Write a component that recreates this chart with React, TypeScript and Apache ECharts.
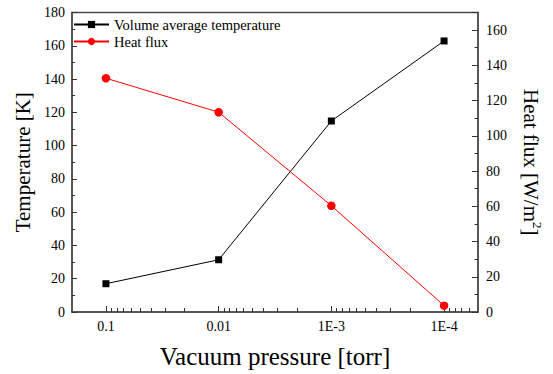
import React, { useEffect, useRef } from "react";
import * as echarts from "echarts";

const pressureLabels = ["0.1", "0.01", "1E-3", "1E-4"];
const pressures = [0.1, 0.01, 0.001, 0.0001];
const temperature = [17.0, 31.4, 114.8, 162.9];
const heatFlux = [132.7, 113.4, 60.3, 3.6];
const pressureMin = 5e-5;
const pressureMax = 0.2;
const tempTicks = { min: 0, max: 180, interval: 20 };
const fluxTicks = { min: 0, max: 170, interval: 20 };

const toX = (p: number) => -Math.log10(p);

export default function App() {
  const ref = useRef<HTMLDivElement>(null);
  useEffect(() => {
    if (!ref.current) return;
    const chart = echarts.init(ref.current, null, { renderer: "svg" });
    const xMin = toX(pressureMax);
    const xMax = toX(pressureMin);
    const major = pressures.map(toX);
    const minor: number[] = [];
    for (let e = -1; e >= -5; e--) {
      for (let m = 2; m <= 9; m++) {
        const v = toX(m * Math.pow(10, e));
        if (v >= xMin + 1e-6 && v <= xMax - 1e-6) minor.push(v);
      }
    }
    const font = "Liberation Serif";
    const lineColor = "#4d4d4d";
    const tickColor = "#333";
    chart.setOption({
      animation: false,
      textStyle: { fontFamily: font },
      grid: {
        left: 72,
        right: 75,
        top: 12.5,
        bottom: 62,
        show: true,
        borderColor: lineColor,
        borderWidth: 1.5,
        backgroundColor: "transparent",
      },
      legend: {
        orient: "vertical",
        left: 68,
        top: 12,
        itemWidth: 35,
        itemHeight: 9,
        itemGap: 2,
        textStyle: { fontFamily: font, fontSize: 14.5, color: "#000" },
        data: ["Volume average temperature", "Heat flux"],
      },
      xAxis: [
        {
          type: "value",
          min: xMin,
          max: xMax,
          name: "Vacuum pressure [torr]",
          nameLocation: "middle",
          nameGap: 32,
          nameTextStyle: { fontFamily: font, fontSize: 25, color: "#000" },
          axisLine: { show: true, lineStyle: { color: lineColor, width: 1.5 } },
          axisTick: { show: true, inside: true, length: 6, customValues: major, lineStyle: { color: tickColor, width: 1 } },
          axisLabel: {
            customValues: major,
            margin: 7,
            fontFamily: font,
            fontSize: 14,
            color: "#000",
            formatter: (v: number) => {
              const i = major.findIndex((m) => Math.abs(m - v) < 1e-6);
              return i >= 0 ? pressureLabels[i] : "";
            },
          },
          splitLine: { show: false },
        },
        {
          type: "value",
          min: xMin,
          max: xMax,
          position: "bottom",
          axisLine: { show: false },
          axisTick: { show: true, inside: true, length: 4, customValues: minor, lineStyle: { color: tickColor, width: 1 } },
          axisLabel: { show: false },
          splitLine: { show: false },
        },
      ],
      yAxis: [
        {
          type: "value",
          position: "left",
          min: tempTicks.min,
          max: tempTicks.max,
          interval: tempTicks.interval,
          name: "Temperature [K]",
          nameLocation: "middle",
          nameGap: 37,
          nameTextStyle: { fontFamily: font, fontSize: 21, color: "#000" },
          axisLine: { show: true, lineStyle: { color: lineColor, width: 1.5 } },
          axisTick: { show: true, inside: true, length: 5, lineStyle: { color: tickColor, width: 1 } },
          minorTick: { show: true, splitNumber: 2, length: 3, lineStyle: { color: tickColor, width: 1 } },
          axisLabel: { margin: 7, fontFamily: font, fontSize: 14, color: "#000" },
          splitLine: { show: false },
        },
        {
          type: "value",
          position: "right",
          min: fluxTicks.min,
          max: fluxTicks.max,
          interval: fluxTicks.interval,
          name: "Heat flux [W/m{sup|2}]",
          nameLocation: "middle",
          nameRotate: -90,
          nameGap: 39,
          nameTextStyle: {
            fontFamily: font,
            fontSize: 21,
            color: "#000",
            lineHeight: 26,
            rich: { sup: { fontFamily: font, fontSize: 13, color: "#000", verticalAlign: "top", lineHeight: 26 } },
          },
          axisLine: { show: true, lineStyle: { color: lineColor, width: 1.5 } },
          axisTick: { show: true, inside: true, length: 6, lineStyle: { color: tickColor, width: 1 } },
          minorTick: { show: true, splitNumber: 2, length: 3.5, lineStyle: { color: tickColor, width: 1 } },
          axisLabel: { margin: 8, fontFamily: font, fontSize: 14, color: "#000", showMaxLabel: false },
          splitLine: { show: false },
        },
      ],
      series: [
        {
          name: "Volume average temperature",
          type: "line",
          xAxisIndex: 0,
          yAxisIndex: 0,
          data: pressures.map((p, i) => [toX(p), temperature[i]]),
          symbol: "rect",
          symbolSize: 7,
          itemStyle: { color: "#000" },
          lineStyle: { color: "#000", width: 1 },
        },
        {
          name: "Heat flux",
          type: "line",
          xAxisIndex: 0,
          yAxisIndex: 1,
          data: pressures.map((p, i) => [toX(p), heatFlux[i]]),
          symbol: "circle",
          symbolSize: 8.5,
          itemStyle: { color: "#ff0000" },
          lineStyle: { color: "#ff0000", width: 1 },
        },
      ],
    });
    return () => chart.dispose();
  }, []);
  return (
    <div
      ref={ref}
      style={{ position: "fixed", left: 0, top: 0, width: 553, height: 374, background: "#fff" }}
    />
  );
}
